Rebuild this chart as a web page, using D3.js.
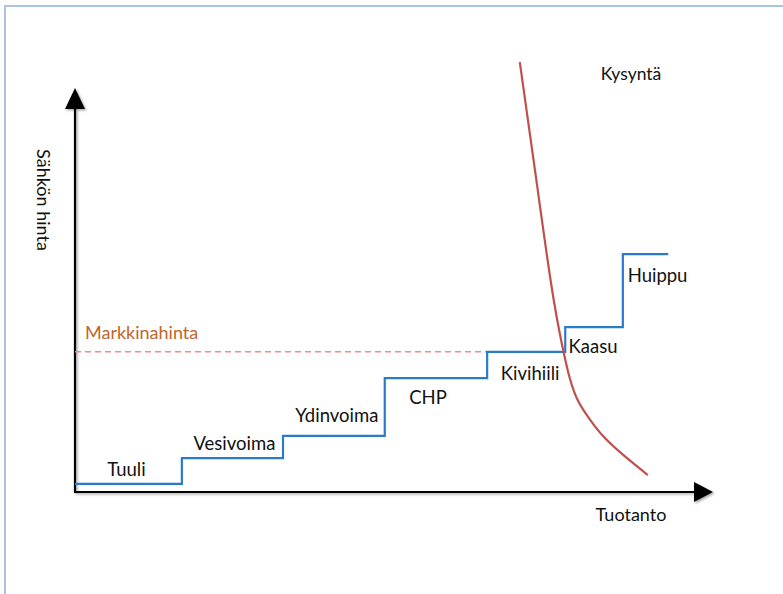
<!DOCTYPE html>
<html>
<head>
<meta charset="utf-8">
<script src="https://cdn.jsdelivr.net/npm/d3@7"></script>
<style>
  html, body { margin: 0; padding: 0; background: #fff; }
  svg { display: block; }
  text { font-family: Lato, "Open Sans", sans-serif; fill: #111; }
</style>
</head>
<body>
<div id="chart"></div>
<script>
// merit order: production steps and their price level
const plants = ['Tuuli', 'Vesivoima', 'Ydinvoima', 'CHP', 'Kivihiili', 'Kaasu', 'Huippu']
const stepStart = [0, 16.7, 32.5, 48.4, 64.4, 76.6, 85.6]
const stepEnd = [16.7, 32.5, 48.4, 64.4, 76.6, 85.6, 92.7]
const stepPrice = [2, 8.4, 13.9, 28.2, 34.7, 40.8, 58.9]

// demand curve (Kysyntä)
const demandX = [69.5, 72.1, 74.6, 76.2, 77.3, 78.6, 80.5, 82.5, 85.2, 89.5]
const demandY = [106.4, 77.2, 48.3, 35.5, 27.7, 22.0, 17.8, 13.6, 9.7, 4.2]

// market price where demand meets supply
const marketPrice = 34.7
const marketEnd = 64.4

const width = 783
const height = 594

const svg = d3.select('#chart').append('svg')
  .attr('width', width)
  .attr('height', height)

const defs = svg.append('defs')
const shadow = defs.append('filter').attr('id', 'shadow')
  .attr('x', '-5%').attr('y', '-5%').attr('width', '110%').attr('height', '110%')
shadow.append('feDropShadow')
  .attr('dx', 1.5).attr('dy', 1.5).attr('stdDeviation', 1)
  .attr('flood-color', '#000').attr('flood-opacity', 0.35)

// frame of the slide
svg.append('path')
  .attr('d', `M5,${height} V6 H${width}`)
  .attr('fill', 'none')
  .attr('stroke', '#a9c4e2')
  .attr('stroke-width', 2)

const x = d3.scaleLinear().domain([0, 100]).range([75, 715])
const y = d3.scaleLinear().domain([0, 100]).range([492, 88])

// axes with arrow heads
const axes = svg.append('g').attr('filter', 'url(#shadow)')
axes.append('path')
  .attr('d', `M${x(0)},${y(0)} V${y(100) + 20} M${x(0) - 1},${y(0)} H${x(100) - 20}`)
  .attr('fill', 'none')
  .attr('stroke', '#000')
  .attr('stroke-width', 2.2)
axes.append('path')
  .attr('d', `M${x(0)},${y(100)} L${x(0) + 10},${y(100) + 21} L${x(0) - 10},${y(100) + 21} Z`)
  .attr('fill', '#000')
axes.append('path')
  .attr('d', `M${x(100) - 2},${y(0)} L${x(100) - 21},${y(0) - 10} L${x(100) - 21},${y(0) + 10} Z`)
  .attr('fill', '#000')

svg.append('text')
  .attr('transform', `translate(37,200) rotate(90)`)
  .attr('text-anchor', 'middle')
  .style('font-size', '18px')
  .text('Sähkön hinta')

svg.append('text')
  .attr('x', 631).attr('y', 521)
  .attr('text-anchor', 'middle')
  .style('font-size', '18px')
  .text('Tuotanto')

// market price line
svg.append('line')
  .attr('x1', x(0)).attr('x2', x(marketEnd))
  .attr('y1', y(marketPrice)).attr('y2', y(marketPrice))
  .attr('stroke', '#f28c8c')
  .attr('stroke-width', 1.5)
  .attr('stroke-dasharray', '6,4')

svg.append('text')
  .attr('x', 85).attr('y', 339)
  .style('font-size', '18px')
  .style('fill', '#c0652d')
  .text('Markkinahinta')

// supply steps
const supply = d3.line()
  .x(d => x(d[0]))
  .y(d => y(d[1]))
const supplyPts = []
plants.forEach((p, i) => {
  supplyPts.push([stepStart[i], stepPrice[i]])
  supplyPts.push([stepEnd[i], stepPrice[i]])
})
svg.append('path')
  .attr('d', supply(supplyPts))
  .attr('fill', 'none')
  .attr('stroke', '#2a7cca')
  .attr('stroke-width', 2.2)

// label offsets (px) relative to the middle of each step
const labelDx = [-2, 2, 3, -8, 4, -1, 12]
const labelDy = [-8, -8, -14, 26, 28, 26, 28]
svg.append('g').selectAll('text')
  .data(plants)
  .join('text')
  .attr('x', (d, i) => x((stepStart[i] + stepEnd[i]) / 2) + labelDx[i])
  .attr('y', (d, i) => y(stepPrice[i]) + labelDy[i])
  .attr('text-anchor', 'middle')
  .style('font-size', '18.5px')
  .text(d => d)

// demand curve
const demand = d3.line()
  .x(d => x(d[0]))
  .y(d => y(d[1]))
  .curve(d3.curveBasis)
svg.append('path')
  .attr('d', demand(demandX.map((v, i) => [v, demandY[i]])))
  .attr('fill', 'none')
  .attr('stroke', '#c0504d')
  .attr('stroke-width', 2.2)

svg.append('text')
  .attr('x', 631).attr('y', 80)
  .attr('text-anchor', 'middle')
  .style('font-size', '17.5px')
  .text('Kysyntä')
</script>
</body>
</html>
